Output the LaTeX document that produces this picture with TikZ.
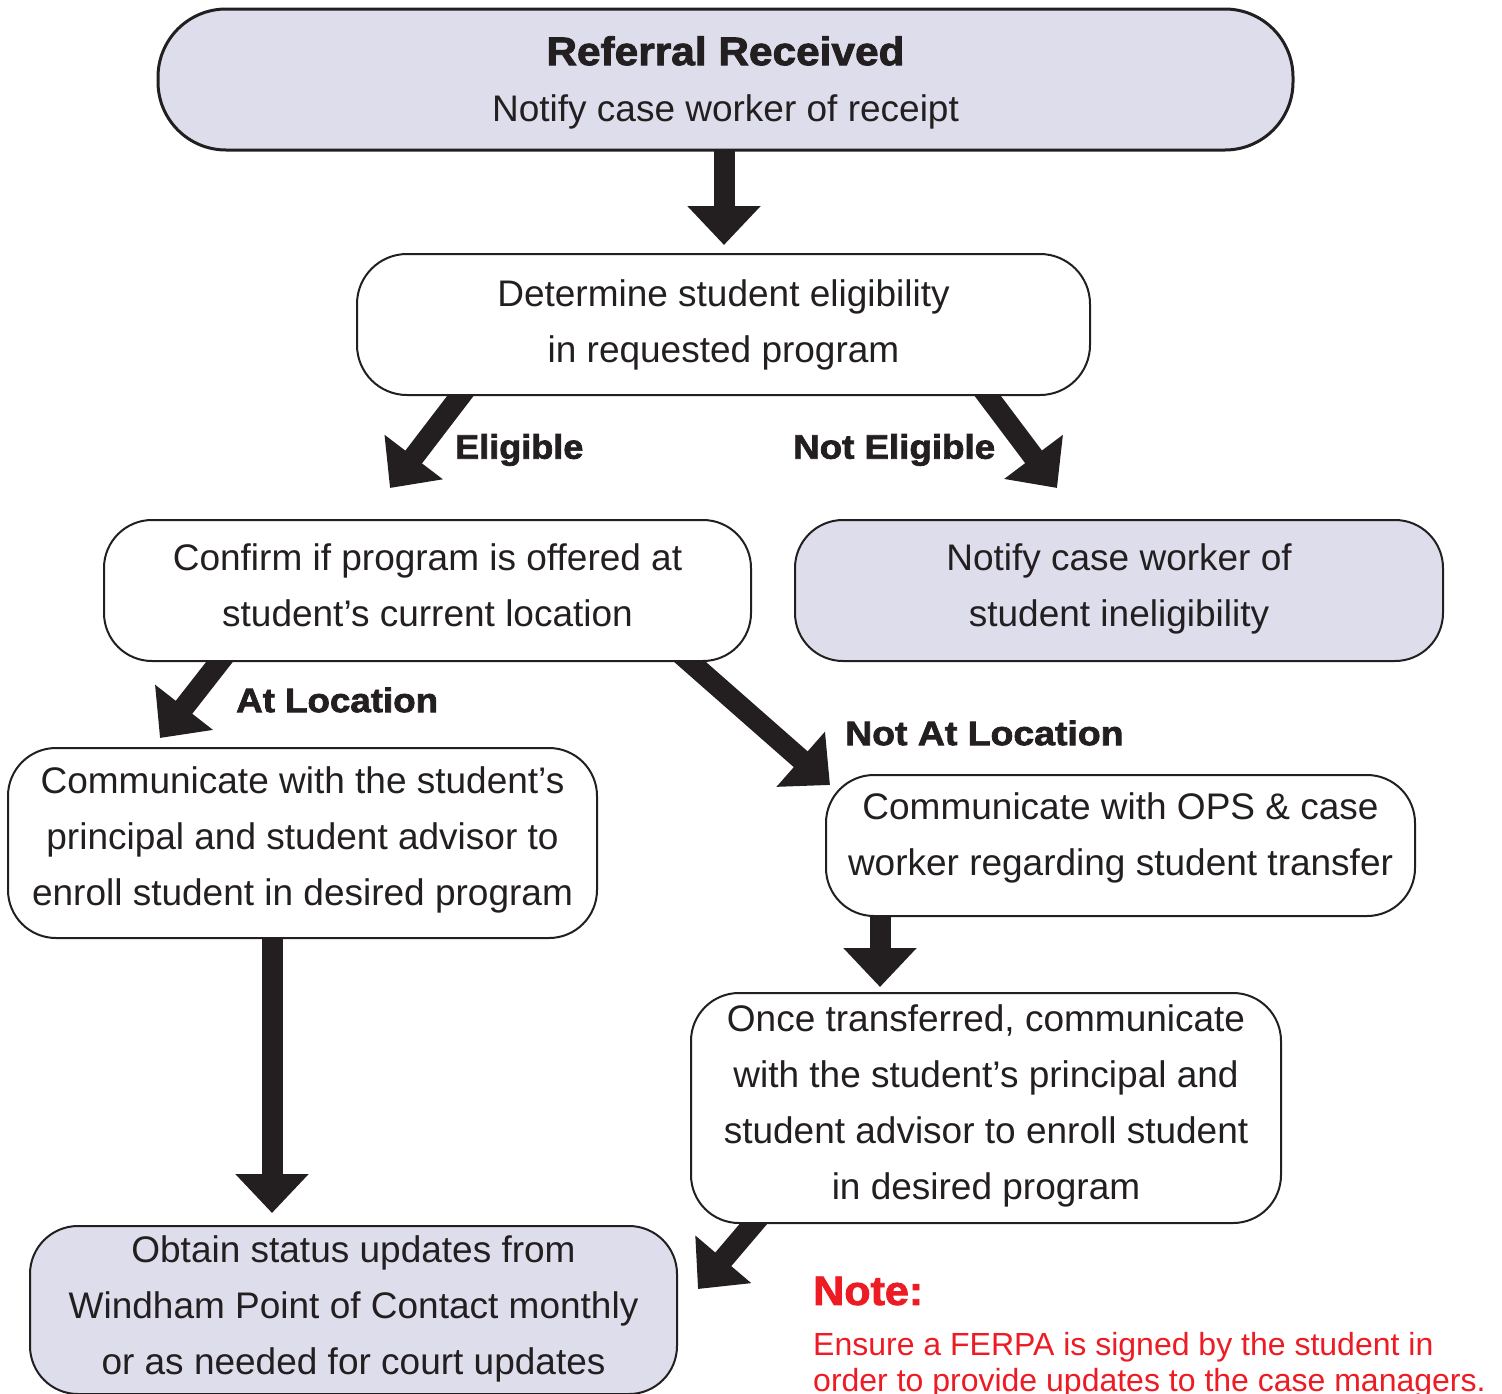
\documentclass[tikz,border=0pt]{standalone}
\usepackage{fontspec}
\usepackage{graphicx}
\setmainfont{Liberation Sans}
\newfontfamily\heavyfont{Liberation Sans}[FakeBold=2]
\usetikzlibrary{arrows.meta}
\definecolor{dk}{HTML}{231F20}
\definecolor{lav}{RGB}{221,221,236}
\definecolor{notered}{HTML}{ED1C24}
\pgfdeclarelayer{background}
\pgfsetlayers{background,main}
\tikzset{
  box/.style={draw=dk, line width=2pt, rounded corners=48pt, inner sep=0pt},
  lavbox/.style={box, fill=lav},
  whitebox/.style={box, fill=white},
  txt/.style={align=center, inner sep=0pt, text=dk,
    font=\fontsize{37}{56}\selectfont},
  blockarrow/.style={draw=dk, line width=21pt, line cap=butt,
    -{Triangle[length=39pt,width=71pt]}},
  lbl/.style={anchor=west, inner sep=0pt, text=dk,
    font=\fontsize{34}{40}\heavyfont\bfseries},
}
\newcommand{\wide}[2]{\scalebox{#1}[1]{#2}}
\begin{document}
\begin{tikzpicture}[x=1pt,y=-1pt]
\useasboundingbox (0,0) rectangle (1502,1393);
\clip (0,0) rectangle (1502,1393);

% boxes
\node[lavbox, line width=3pt, rounded corners=68pt, minimum width=1135pt, minimum height=141pt]
  (ref) at (725.5,79.5) {};
\node[whitebox, rounded corners=50pt, minimum width=733pt, minimum height=141pt]
  (det) at (723.5,324.5) {};
\node[whitebox, minimum width=647pt, minimum height=141pt]
  (conf) at (427.5,590.5) {};
\node[lavbox, minimum width=648pt, minimum height=141pt]
  (inel) at (1119,590.5) {};
\node[whitebox, minimum width=589pt, minimum height=190pt]
  (comm) at (302.5,843) {};
\node[whitebox, minimum width=589pt, minimum height=141pt]
  (ops) at (1120.5,845.5) {};
\node[whitebox, minimum width=590pt, minimum height=230pt]
  (once) at (986,1108) {};
\node[lavbox, minimum width=647pt, minimum height=168pt]
  (obt) at (353.5,1310) {};

% box texts
\node[txt] (refT) at ([yshift=-3pt]ref.center)
  {{\fontsize{40}{56}\heavyfont\bfseries\wide{1.06}{Referral Received}}\\Notify case worker of receipt};
\node[txt] (detT) at (det.center) {Determine student eligibility\\in requested program};
\node[txt] (confT) at ([yshift=5pt]conf.center) {Confirm if program is offered at\\student’s current location};
\node[txt] (inelT) at ([yshift=2pt]inel.center) {Notify case worker of\\student ineligibility};
\node[txt] (commT) at ([yshift=3pt]comm.center) {Communicate with the student’s\\principal and student advisor to\\enroll student in desired program};
\node[txt] (opsT) at ([yshift=8pt]ops.center) {Communicate with OPS \& case\\worker regarding student transfer};
\node[txt] (onceT) at ([yshift=2pt]once.center) {Once transferred, communicate\\with the student’s principal and\\student advisor to enroll student\\in desired program};
\node[txt] (obtT) at ([yshift=1pt]obt.center) {Obtain status updates from\\Windham Point of Contact monthly\\or as needed for court updates};

% branch labels
\node[lbl] (lelig) at (455,450) {\wide{1.06}{Eligible}};
\node[lbl] (lnot) at (793,450) {\wide{1.08}{Not Eligible}};
\node[lbl] (lat) at (236,700) {\wide{1.08}{At Location}};
\node[lbl] (lnat) at (845,733) {\wide{1.1}{Not At Location}};

% note
\node[anchor=west, inner sep=0pt, text=notered, font=\fontsize{41}{48}\heavyfont\bfseries]
  (note) at (813,1291) {\wide{1.05}{Note:}};
\node[anchor=north west, inner sep=0pt, text=notered, align=left,
  font=\fontsize{32}{36}\selectfont] (notetxt) at (813,1332)
  {Ensure a FERPA is signed by the student in\\order to provide updates to the case managers.};

\coordinate (tA) at (724,245);
\coordinate (tB) at (390,488);
\coordinate (tC) at (1057,488);
\coordinate (tD) at (160,738);
\coordinate (tE) at (830,785);
\coordinate (tF) at (880,987);
\coordinate (tG) at (272,1213);
\coordinate (tH) at (698,1289);

\begin{pgfonlayer}{background}
\draw[blockarrow] ([xshift=-1.5pt,yshift=10pt]ref.south) -- (tA);
\draw[blockarrow] ([xshift=115pt,yshift=14pt]det.south west) -- (tB);
\draw[blockarrow] ([xshift=-113pt,yshift=13pt]det.south east) -- (tC);
\draw[blockarrow] ([xshift=125pt,yshift=11pt]conf.south west) -- (tD);
\draw[blockarrow] ([xshift=-71pt,yshift=8pt]conf.south east) -- (tE);
\draw[blockarrow] ([xshift=-240.5pt,yshift=10pt]ops.south) -- (tF);
\draw[blockarrow] ([xshift=-30.5pt,yshift=10pt]comm.south) -- (tG);
\draw[blockarrow] ([xshift=71pt,yshift=9pt]once.south west) -- (tH);
\end{pgfonlayer}
\end{tikzpicture}
\end{document}
